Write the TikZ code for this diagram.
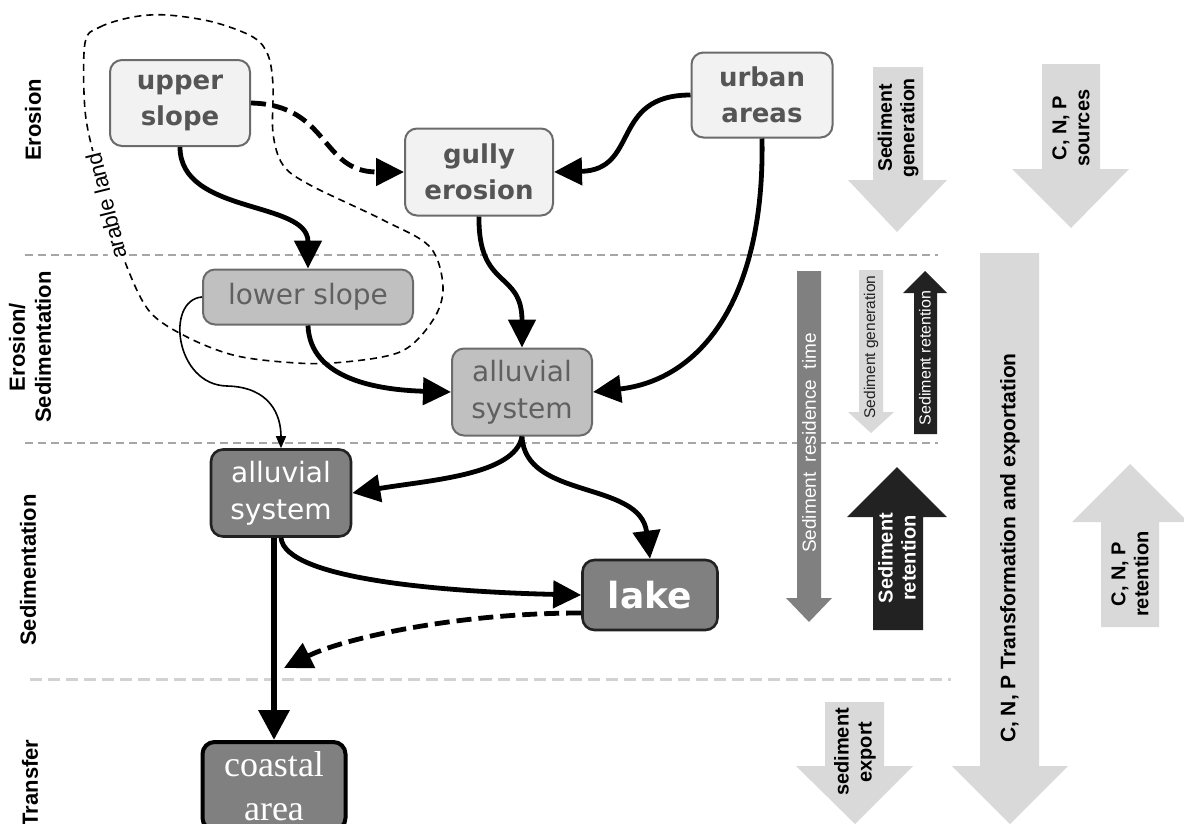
\documentclass[tikz,border=0pt]{standalone}
\usepackage{fontspec}
\setmainfont{Liberation Sans}
\newfontfamily\boxfont{DejaVu Sans}
\newfontfamily\coastfont{Liberation Serif}
\usetikzlibrary{arrows.meta}

\definecolor{boxlight}{HTML}{F2F2F2}
\definecolor{boxmid}{HTML}{C0C0C0}
\definecolor{boxdark}{HTML}{808080}
\definecolor{boxedge}{HTML}{6B6B6B}
\definecolor{textlight}{HTML}{555555}
\definecolor{textmid}{HTML}{606060}
\definecolor{arrowlight}{HTML}{D9D9D9}
\definecolor{arrowdark}{HTML}{222222}
\definecolor{sepline}{HTML}{A6A6A6}
\definecolor{seplight}{HTML}{D2D2D2}

\tikzset{
  zone/.style={draw=boxedge, line width=2pt, rounded corners=12pt, inner sep=0pt, align=center},
  zonelight/.style={zone, fill=boxlight, text=textlight, font=\fontsize{26}{36}\boxfont\bfseries},
  zonemid/.style={zone, fill=boxmid, text=textmid, font=\fontsize{28}{37}\boxfont},
  zonedark/.style={zone, draw=arrowdark, line width=2.6pt, fill=boxdark, text=white, font=\fontsize{28}{37}\boxfont},
  flow/.style={line width=4.8pt, -{Triangle[length=28pt,width=27pt]}},
  flowdash/.style={flow, dash pattern=on 15pt off 7pt},
  flowthin/.style={line width=1.6pt, -{Triangle[length=12pt,width=10pt]}},
  band/.style={line width=1.8pt, draw=sepline, dash pattern=on 8pt off 5pt},
  bandlabel/.style={rotate=90, align=center, font=\bfseries\fontsize{22}{26}\selectfont},
  shafttext/.style={rotate=90, align=center, inner sep=0pt, font=\bfseries\fontsize{20}{23}\selectfont}
}

\begin{document}
\begin{tikzpicture}[x=1pt, y=-1pt]
  \useasboundingbox (0,0) rectangle (1184,823);
  \clip (0,0) rectangle (1184,823);

  % Section borders
  \draw[band] (25,255) -- (938,255);
  \draw[band] (25,443) -- (938,443);
  \draw[band, draw=seplight, line width=3pt, dash pattern=on 12pt off 6pt] (30,679) -- (951,679);

  % Section labels
  \node[bandlabel] (erosion) at (33,120) {Erosion};
  \node[bandlabel] (erosed) at (30,347) {Erosion/\\Sedimentation};
  \node[bandlabel] (sedim) at (28,570) {Sedimentation};
  \node[bandlabel] (transfer) at (30,783) {Transfer};

  % Arable land
  \draw[line width=1.6pt, dash pattern=on 7pt off 5pt] plot[smooth cycle, tension=0.55] coordinates {
    (85,43) (100,27) (133,17) (167,15) (213,22) (253,37) (268,55) (273,85)
    (273,133) (283,165) (310,185) (383,220) (430,247) (443,287) (433,320)
    (400,352) (333,363) (283,362) (233,355) (187,337) (150,312) (127,267)
    (110,213) (95,160) (85,110)};
  \node[rotate=104, fill=white, inner sep=2pt, font=\fontsize{22}{26}\selectfont] (arable) at (106,206) {arable land};

  % Landscape units
  \node[zonelight, minimum width=140, minimum height=86] (upper) at (180,103) {upper\\slope};
  \node[zonelight, minimum width=148, minimum height=87] (gully) at (479,172) {gully\\erosion};
  \node[zonelight, minimum width=141, minimum height=85] (urban) at (762,95) {urban\\areas};
  \node[zonemid, minimum width=210, minimum height=55] (lower) at (308,297) {lower slope};
  \node[zonemid, minimum width=140, minimum height=87] (malluv) at (522,392) {alluvial\\system};
  \node[zonedark, minimum width=140, minimum height=87] (lalluv) at (281,493) {alluvial\\system};
  \node[zonedark, minimum width=135, minimum height=70, font=\fontsize{36}{40}\boxfont\bfseries] (lake) at (650,595) {lake};
  \node[zonedark, draw=black, line width=4pt, minimum width=143, minimum height=88, font=\fontsize{36}{44}\coastfont] (coast) at (274,786) {coastal\\area};
  \coordinate (drop) at (284,668);

  % Sediment paths
  \draw[flow] (upper.south) .. controls (180,215) and (308,200) .. (lower.north);
  \draw[flowdash] (upper.east) .. controls (330,105) and (320,172) .. (gully.west);
  \draw[flow] (urban.west) .. controls (610,95) and (640,170) .. (gully.east);
  \draw[flow] (gully.south) .. controls (478,290) and (522,270) .. (malluv.north);
  \draw[flow] (urban.south) .. controls (765,300) and (700,380) .. (malluv.east);
  \draw[flow] (lower.south) .. controls (310,380) and (380,390) .. (malluv.west);
  \draw[flowthin] (lower.west) .. controls (165,300) and (175,385) .. (227,386)
    .. controls (270,387) and (281,415) .. (lalluv.north);
  \draw[flow] (malluv.south) .. controls (515,475) and (430,480) .. (lalluv.east);
  \draw[flow] (malluv.south) .. controls (525,500) and (640,480) .. (lake.north);
  \draw[flow] (lalluv.south) .. controls (285,580) and (450,592) .. (lake.west);
  \draw[flow, line width=6.5pt, -{Triangle[length=30pt,width=30pt]}] (lalluv.south -| coast.north) -- (coast.north);
  \draw[flowdash] ([yshift=-18pt]lake.west) .. controls (450,613) and (340,640) .. (drop);

  % Sediment generation
  \fill[arrowlight] (873,67) -- (923,67) -- (923,180) -- (947,180) -- (897,232) -- (848,180) -- (873,180) -- cycle;
  \node[shafttext, font=\bfseries\fontsize{19.5}{22.5}\selectfont] (sedgen) at (898,128) {Sediment\\generation};

  % C, N, P sources
  \fill[arrowlight] (1042,64) -- (1100,64) -- (1100,169) -- (1129,169) -- (1071,228) -- (1012,169) -- (1042,169) -- cycle;
  \node[shafttext] (cnpsrc) at (1071,128) {C, N, P\\sources};

  % Sediment residence time
  \fill[boxdark] (797,271) -- (821,271) -- (821,598) -- (832,598) -- (809,622) -- (786,598) -- (797,598) -- cycle;
  \node[rotate=90, inner sep=0pt, text=white, font=\fontsize{19}{22}\selectfont] (restime) at (809,443) {Sediment\ \ residence\ \ time};

  % Sediment generation (small)
  \fill[arrowlight] (859,270) -- (883,270) -- (883,412) -- (894,412) -- (871,433) -- (848,412) -- (859,412) -- cycle;
  \node[rotate=90, inner sep=0pt, text=arrowdark, font=\fontsize{15.5}{18}\selectfont] (sedgensm) at (871,347) {Sediment generation};

  % Sediment retention (small)
  \fill[arrowdark] (914,434) -- (937,434) -- (937,293) -- (947,293) -- (925,271) -- (903,293) -- (914,293) -- cycle;
  \node[rotate=90, inner sep=0pt, text=white, font=\fontsize{16}{19}\selectfont] (sedretsm) at (925,358) {Sediment retention};

  % Sediment retention
  \fill[arrowdark] (873,630) -- (923,630) -- (923,517) -- (947,517) -- (897,467) -- (847,517) -- (873,517) -- cycle;
  \node[shafttext, text=white] (sedret) at (897,558) {Sediment\\retention};

  % sediment export
  \fill[arrowlight] (825,702) -- (884,702) -- (884,766) -- (913,766) -- (855,824) -- (796,766) -- (825,766) -- cycle;
  \node[shafttext] (sedexp) at (855,752) {sediment\\export};

  % C, N, P Transformation and exportation
  \fill[arrowlight] (980,253) -- (1039,253) -- (1039,766) -- (1068,766) -- (1010,824) -- (952,766) -- (980,766) -- cycle;
  \node[shafttext, font=\bfseries\fontsize{21}{24}\selectfont] (cnptrans) at (1010,548) {C, N, P Transformation and exportation};

  % C, N, P retention
  \fill[arrowlight] (1101,627) -- (1159,627) -- (1159,522) -- (1188,522) -- (1130,464) -- (1072,522) -- (1101,522) -- cycle;
  \node[shafttext] (cnpret) at (1130,574) {C, N, P\\retention};
\end{tikzpicture}
\end{document}
